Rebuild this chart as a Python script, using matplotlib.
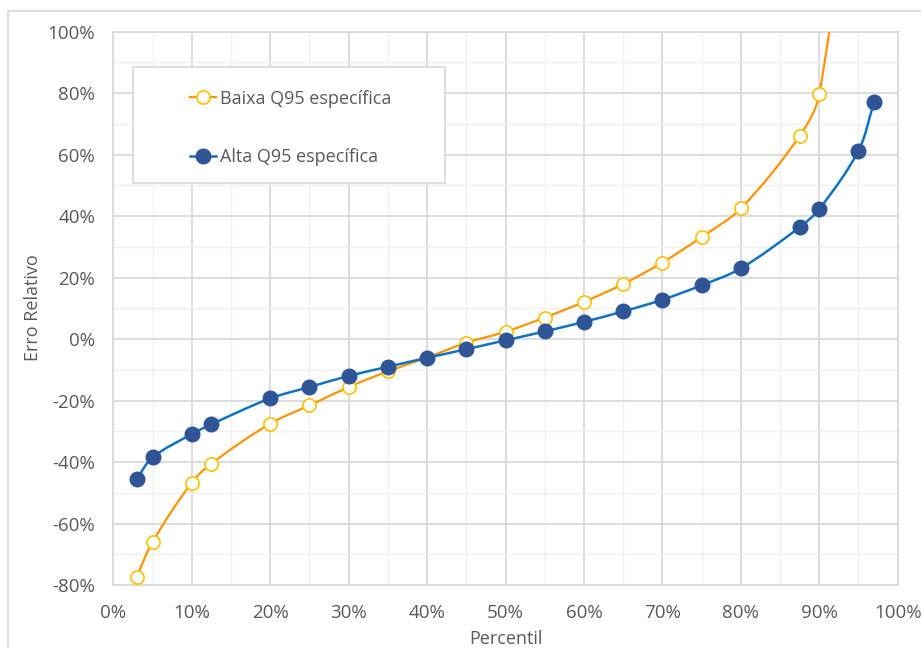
import matplotlib
matplotlib.use("Agg")
import numpy as np
import matplotlib.pyplot as plt
from matplotlib.path import Path
from matplotlib.patches import PathPatch, Rectangle
from matplotlib.lines import Line2D
from matplotlib.ticker import FuncFormatter, MultipleLocator

plt.rcParams['font.family'] = ['Open Sans', 'DejaVu Sans']

# Percentis (%) e erro relativo (%) para cada grupo
perc_baixa = [3, 5, 10, 12.5, 20, 25, 30, 35, 40, 45, 50, 55, 60, 65, 70, 75, 80, 87.5, 90, 95]
erro_baixa = [-77.3, -66.0, -46.7, -40.5, -27.5, -21.6, -15.6, -10.5, -6.0, -1.2, 2.4, 7.0,
              12.1, 17.9, 24.9, 33.2, 42.5, 66.1, 79.6, 175.0]

perc_alta = [3, 5, 10, 12.5, 20, 25, 30, 35, 40, 45, 50, 55, 60, 65, 70, 75, 80, 87.5, 90, 95, 97]
erro_alta = [-45.4, -38.5, -30.9, -27.7, -19.3, -15.6, -12.0, -9.0, -6.1, -3.3, -0.4, 2.5,
             5.6, 9.0, 12.8, 17.5, 23.0, 36.4, 42.3, 61.3, 77.2]

nome_baixa = "Baixa Q95 específica"
nome_alta = "Alta Q95 específica"

cor_linha_baixa = "#FF9300"
cor_marca_baixa = "#FFC000"
cor_linha_alta = "#0F72C2"
cor_marca_alta = "#2F5597"
cor_texto = "#595959"
cor_grade = "#D9D9D9"
cor_grade_sec = "#F0F0F0"


def curva_suave(ax, x, y):
    """Smoothed Bezier path through the points, built in display space."""
    pts = ax.transData.transform(np.column_stack([x, y]))
    n = len(pts)
    seg = np.hypot(*np.diff(pts, axis=0).T)
    tang = np.zeros_like(pts)
    for i in range(n):
        if i == 0:
            tang[i] = (pts[1] - pts[0]) / seg[0]
        elif i == n - 1:
            tang[i] = (pts[-1] - pts[-2]) / seg[-1]
        else:
            tang[i] = (pts[i + 1] - pts[i - 1]) / (seg[i - 1] + seg[i])
    verts = [pts[0]]
    codes = [Path.MOVETO]
    for i in range(n - 1):
        d = seg[i] / 3
        verts += [pts[i] + tang[i] * d, pts[i + 1] - tang[i + 1] * d, pts[i + 1]]
        codes += [Path.CURVE4] * 3
    verts = ax.transData.inverted().transform(np.array(verts))
    return Path(verts, codes)


fig = plt.figure(figsize=(9.21, 6.48), dpi=100)
W, H = 921, 648
ax = fig.add_axes([113.3 / W, 1 - 585 / H, (897.7 - 113.3) / W, (585 - 31.7) / H])

# chart area border
fig.add_artist(Line2D([8.3 / W, 8.3 / W], [0, 1 - 11 / H], color=cor_grade, lw=1.2,
                      transform=fig.transFigure))
fig.add_artist(Line2D([8.3 / W, 1], [1 - 11 / H, 1 - 11 / H], color=cor_grade, lw=1.2,
                      transform=fig.transFigure))

ax.set_xlim(0, 100)
ax.set_ylim(-80, 100)
ax.xaxis.set_major_locator(MultipleLocator(10))
ax.xaxis.set_minor_locator(MultipleLocator(5))
ax.yaxis.set_major_locator(MultipleLocator(20))
ax.yaxis.set_minor_locator(MultipleLocator(10))
fmt = FuncFormatter(lambda v, p: f"{v:.0f}%")
ax.xaxis.set_major_formatter(fmt)
ax.yaxis.set_major_formatter(fmt)

ax.set_axisbelow(True)
ax.grid(which='major', color=cor_grade, lw=1.3)
ax.grid(which='minor', color=cor_grade_sec, lw=1.0)
for s in ax.spines.values():
    s.set_color(cor_grade)
    s.set_linewidth(1.3)

ax.tick_params(which='both', length=0)
ax.tick_params(axis='y', pad=13, labelsize=13.5, labelcolor=cor_texto)
ax.tick_params(axis='x', pad=14, labelsize=13.5, labelcolor=cor_texto)

# smoothed lines
ax.add_patch(PathPatch(curva_suave(ax, perc_baixa, erro_baixa), facecolor='none',
                       edgecolor=cor_linha_baixa, lw=1.6, zorder=3))
ax.add_patch(PathPatch(curva_suave(ax, perc_alta, erro_alta), facecolor='none',
                       edgecolor=cor_linha_alta, lw=1.8, zorder=3))

# markers
ax.plot(perc_baixa, erro_baixa, ls='none', marker='o', ms=9.5, mfc='white',
        mec=cor_marca_baixa, mew=1.2, zorder=4)
ax.plot(perc_alta, erro_alta, ls='none', marker='o', ms=10.5, mfc=cor_marca_alta,
        mec=cor_marca_alta, zorder=5)

# legend box
ax.add_patch(Rectangle((133 / W, 1 - 183 / H), 312 / W, 116 / H, transform=fig.transFigure,
                       facecolor='white', edgecolor=cor_grade, lw=1.2, zorder=6))
h_baixa = Line2D([], [], color=cor_linha_baixa, lw=1.6, marker='o', ms=9.5, mfc='white',
                 mec=cor_marca_baixa, mew=1.2)
h_alta = Line2D([], [], color=cor_linha_alta, lw=1.8, marker='o', ms=10.5,
                mfc=cor_marca_alta, mec=cor_marca_alta)
leg = ax.legend([h_baixa, h_alta], [nome_baixa, nome_alta], frameon=False, loc='upper left',
                bbox_to_anchor=(190 / W, 1 - 89.5 / H), bbox_transform=fig.transFigure,
                borderpad=0, borderaxespad=0, handlelength=1.45, handletextpad=0.2,
                labelspacing=2.27, numpoints=1, fontsize=13)
for t in leg.get_texts():
    t.set_color(cor_texto)
leg.set_zorder(7)

fig.text(33 / W, 1 - 308 / H, "Erro Relativo", rotation=90, ha='center', va='center',
         fontsize=13, color=cor_texto)
fig.text(506 / W, 1 - 644 / H, "Percentil", ha='center', va='baseline',
         fontsize=13, color=cor_texto)

fig.savefig("out.png", dpi=100, facecolor='white')
